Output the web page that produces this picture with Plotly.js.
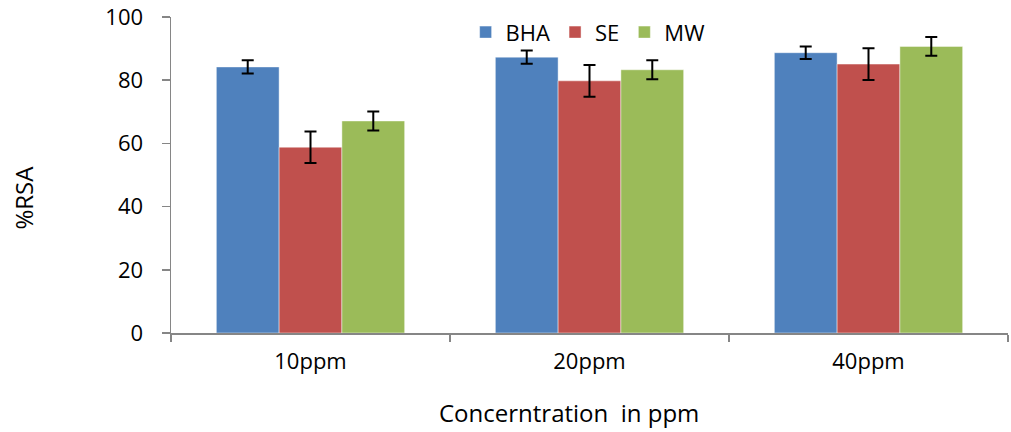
<!DOCTYPE html>
<html>
<head>
<meta charset="utf-8">
<script src="https://cdn.plot.ly/plotly-3.0.1.min.js"></script>
<style>html,body{margin:0;padding:0;background:#fff;}#chart{width:1011px;height:432px;}</style>
</head>
<body>
<div id="chart"></div>
<script>
const categories = ["10ppm", "20ppm", "40ppm"];
const seriesNames = ["BHA", "SE", "MW"];
const bhaValues = [84.2, 87.3, 88.7];
const seValues = [58.8, 79.8, 85.1];
const mwValues = [67.1, 83.3, 90.7];
const bhaErrors = [2.1, 2.1, 2.0];
const seErrors = [5.0, 5.0, 5.0];
const mwErrors = [3.0, 3.0, 3.0];
const yTickVals = [0, 20, 40, 60, 80, 100];

const colors = ["#4F81BD", "#C0504D", "#9BBB59"];
const values = [bhaValues, seValues, mwValues];
const errors = [bhaErrors, seErrors, mwErrors];

const FONT = "Open Sans, sans-serif";

const traces = seriesNames.map((name, i) => ({
  type: "bar",
  name: name,
  x: categories,
  y: values[i],
  marker: {color: colors[i], line: {color: "rgba(255,255,255,0.45)", width: 1}},
  error_y: {type: "data", array: errors[i], visible: true, color: "#000000", thickness: 2, width: 6}
}));

const layout = {
  width: 1011,
  height: 432,
  margin: {l: 171, r: 3, t: 17, b: 99},
  paper_bgcolor: "#ffffff",
  plot_bgcolor: "#ffffff",
  barmode: "group",
  bargap: 0.325,
  bargroupgap: 0,
  font: {family: FONT, size: 22, color: "#000000"},
  showlegend: true,
  legend: {
    orientation: "h",
    x: 0.352, xanchor: "left",
    y: 1.018, yanchor: "top",
    font: {family: FONT, size: 22, color: "#000000"},
    bgcolor: "rgba(0,0,0,0)",
    traceorder: "normal"
  },
  xaxis: {
    type: "category",
    range: [-0.5, 2.5],
    tickson: "boundaries",
    ticks: "outside",
    ticklen: 7,
    tickwidth: 1.5,
    tickcolor: "#868686",
    showline: true,
    linecolor: "#868686",
    linewidth: 1.5,
    showgrid: false,
    zeroline: false,
    tickfont: {family: FONT, size: 22, color: "#000000"},
    ticklabelstandoff: 8
  },
  yaxis: {
    range: [0, 100],
    tickvals: yTickVals,
    ticktext: yTickVals.map(String),
    ticks: "outside",
    ticklen: 8,
    tickwidth: 1.5,
    tickcolor: "#868686",
    showline: true,
    linecolor: "#868686",
    linewidth: 1.5,
    showgrid: false,
    zeroline: false,
    tickfont: {family: FONT, size: 22, color: "#000000"},
    ticklabelstandoff: 14
  },
  annotations: [
    {
      text: "%RSA", xref: "paper", yref: "paper",
      x: -0.1766, y: 0.429, xanchor: "center", yanchor: "middle",
      textangle: -90, showarrow: false,
      font: {family: FONT, size: 24, color: "#000000"}
    },
    {
      text: "Concerntration&nbsp;&nbsp;in ppm", xref: "paper", yref: "paper",
      x: 0.475, y: -0.253, xanchor: "center", yanchor: "middle",
      showarrow: false,
      font: {family: FONT, size: 24, color: "#000000"}
    }
  ]
};

Plotly.newPlot("chart", traces, layout, {displayModeBar: false, staticPlot: true});
</script>
</body>
</html>
